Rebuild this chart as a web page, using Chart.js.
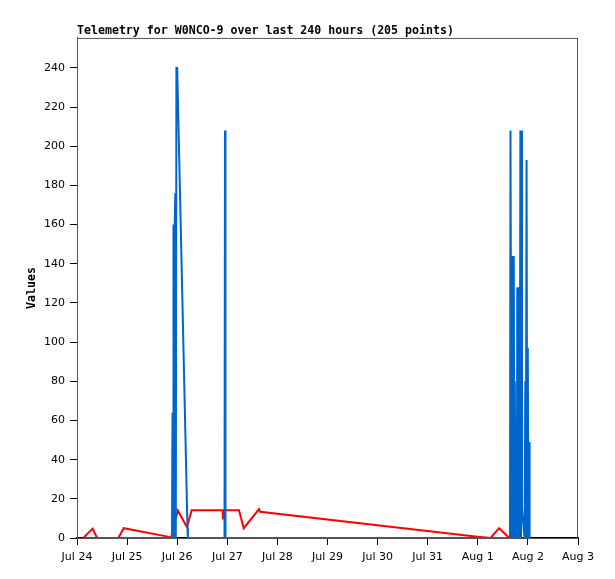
<!DOCTYPE html>
<html>
<head>
<meta charset="utf-8">
<script src="https://cdn.jsdelivr.net/npm/chart.js@4.4.0/dist/chart.umd.min.js"></script>
<style>
  html, body { margin: 0; padding: 0; background: #fff; }
  #wrap { width: 615px; height: 579px; }
</style>
</head>
<body>
<div id="wrap"><canvas id="grafik"></canvas></div>
<script>
// === DATA (hours since Jul 24 00:00) ===
const xLabels = ["Jul 24", "Jul 25", "Jul 26", "Jul 27", "Jul 28", "Jul 29", "Jul 30", "Jul 31", "Aug 1", "Aug 2", "Aug 3"];
const xTicks = [0, 24, 48, 72, 96, 120, 144, 168, 192, 216, 240];
const yTicks = [0, 20, 40, 60, 80, 100, 120, 140, 160, 180, 200, 220, 240];

// blue channel
const blueHours = [3.0, 45.5, 45.75, 45.99, 46.23, 46.56, 46.8, 47.09, 47.33, 47.62, 48.0, 52.93, 53.12,
  70.66, 70.9, 71.14,
  207.42, 207.66, 208.14, 208.38, 208.86, 209.24, 209.48, 209.72, 210.06, 210.39, 210.68, 210.92, 211.26,
  211.59, 211.78, 211.97, 212.16, 212.4, 212.69, 212.93, 213.17, 214.13, 214.42, 214.75, 214.99, 215.37,
  215.66, 215.95, 216.24, 216.53, 216.82];
const blueValues = [0, 0, 64, 0, 160, 0, 160, 176, 0, 240, 240, 5, 0,
  0, 208, 0,
  0, 208, 0, 144, 0, 144, 0, 80, 0, 41, 0, 128, 0,
  128, 0, 80, 0, 208, 0, 208, 15, 3, 0, 80, 0, 193,
  0, 97, 0, 49, 0];

// red channel
const redHours = [3.0, 7.5, 9.6, 19.8, 22.4, 43.5, 45.0, 48.3, 52.7, 54.9, 69.8, 69.9, 70.1, 77.6, 79.9,
  87.2, 87.7, 190.7, 198.1, 202.2, 207.1];
const redValues = [0, 4.8, 0, 0, 5, 0.7, 0, 14, 5.5, 14.2, 14.2, 9.5, 14.2, 14.2, 5,
  14.8, 13.4, 0.8, 0, 5, 0];

const toPoints = (xs, ys) => xs.map((x, i) => ({ x: x, y: ys[i] }));

// bingkai abu-abu di sekeliling area plot
const frame = {
  id: "frame",
  beforeDatasetsDraw(chart) {
    const a = chart.chartArea, ctx = chart.ctx;
    ctx.save();
    ctx.strokeStyle = "#555";
    ctx.lineWidth = 1;
    ctx.strokeRect(a.left + 0.5, a.top + 0.5, a.right - a.left - 1, a.bottom - a.top);
    ctx.restore();
  }
};

new Chart(document.getElementById("grafik"), {
  type: "line",
  data: {
    datasets: [{
      data: toPoints(blueHours, blueValues),
      borderColor: "#0066cc",
      borderWidth: 2,
      pointRadius: 0,
      tension: 0
    }, {
      data: toPoints(redHours, redValues),
      borderColor: "#ff0000",
      borderWidth: 2,
      pointRadius: 0,
      tension: 0
    }]
  },
  options: {
    responsive: true,
    maintainAspectRatio: false,
    animation: false,
    layout: { padding: { top: 0, right: 37, bottom: 0, left: 0 } },
    plugins: {
      legend: { display: false },
      tooltip: { enabled: false },
      title: {
        display: true,
        text: "Telemetry for W0NCO-9 over last 240 hours (205 points)",
        align: "start",
        fullSize: false,
        color: "#000",
        font: { family: "DejaVu Sans Mono", size: 11.6, weight: "bold", lineHeight: 1.2 },
        padding: { top: 24, bottom: 0 }
      }
    },
    scales: {
      x: {
        type: "linear",
        min: 0,
        max: 240,
        z: 1,
        afterBuildTicks: (s) => { s.ticks = xTicks.map(v => ({ value: v })); },
        afterFit: (s) => { s.height = 41; },
        ticks: {
          color: "#000",
          font: { family: "DejaVu Sans", size: 11 },
          padding: 6,
          maxRotation: 0,
          autoSkip: false,
          callback: (v) => xLabels[xTicks.indexOf(v)]
        },
        grid: { drawOnChartArea: false, drawTicks: true, tickLength: 7, tickColor: "#000", tickWidth: 1 },
        border: { color: "#000", width: 2 }
      },
      y: {
        min: 0,
        max: 255.3,
        afterBuildTicks: (s) => { s.ticks = yTicks.map(v => ({ value: v })); },
        afterFit: (s) => { s.width = 77; },
        ticks: {
          color: "#000",
          font: { family: "DejaVu Sans", size: 11 },
          padding: 5
        },
        grid: { drawOnChartArea: false, drawTicks: true, tickLength: 7, tickColor: "#000", tickWidth: 1 },
        border: { color: "#555", width: 1 },
        title: {
          display: true,
          text: "Values",
          color: "#000",
          font: { family: "DejaVu Sans Mono", size: 11.6, weight: "bold" },
          padding: { top: 25, bottom: 0 }
        }
      }
    }
  },
  plugins: [frame]
});
</script>
</body>
</html>
